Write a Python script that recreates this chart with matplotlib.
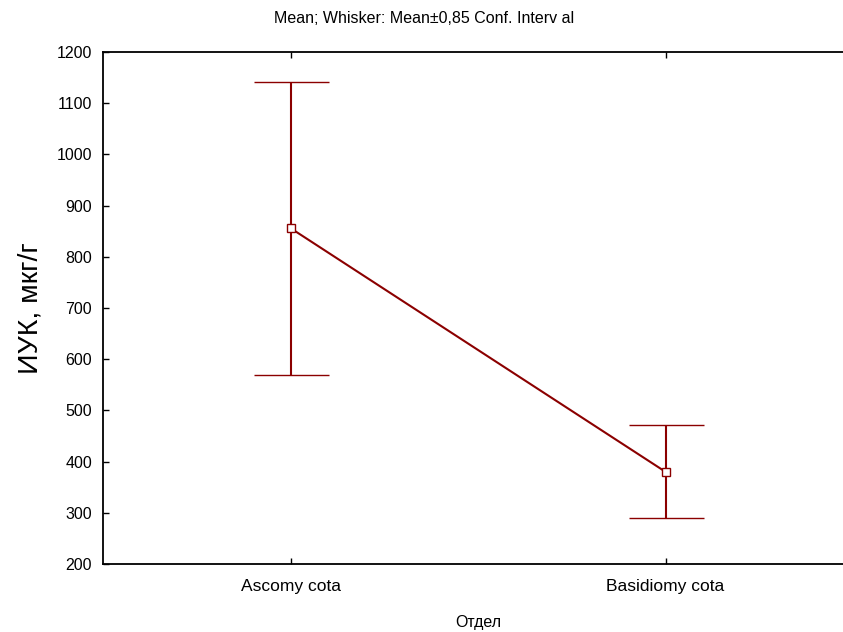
#!/usr/bin/env python3
# -*- coding: utf-8 -*-
import matplotlib
matplotlib.use('Agg')
import matplotlib.pyplot as plt

plt.rcParams['font.family'] = ['Liberation Sans', 'DejaVu Sans']

# data -----------------------------------------------------------------------
groups = ['Ascomy cota', 'Basidiomy cota']
means = [856, 380]
ci_half = [286, 91]
yticks = [200, 300, 400, 500, 600, 700, 800, 900, 1000, 1100, 1200]

COLOR = '#8B0000'

fig = plt.figure(figsize=(8.43, 6.32), dpi=100)
ax = fig.add_axes([0.1222, 0.1076, 0.8897, 0.8101])

xs = [0.5 + i for i in range(len(groups))]
ax.errorbar(xs, means, yerr=ci_half, color=COLOR, linewidth=1.5,
            elinewidth=1.5, capsize=27, capthick=1.6,
            marker='s', markersize=6, markerfacecolor='white',
            markeredgecolor=COLOR, markeredgewidth=1.0, zorder=3)

ax.set_xlim(0, 2)
ax.set_ylim(200, 1200)
ax.set_xticks(xs)
ax.set_xticklabels(groups, fontsize=12.5)
ax.set_yticks(yticks)
ax.set_yticklabels([str(v) for v in yticks], fontsize=11.5)
ax.tick_params(axis='y', direction='in', length=4, width=1, pad=8, left=True, right=False)
ax.tick_params(axis='x', direction='in', length=4, width=1, pad=11, top=True, bottom=True)

for s in ['left', 'bottom', 'top']:
    ax.spines[s].set_linewidth(1.3)
ax.spines['right'].set_visible(False)

ax.set_ylabel('ИУК, мкг/г', fontsize=20.5, labelpad=9)
fig.text(0.567, 0.0158, 'Отдел', ha='center', va='center', fontsize=11.5)
fig.text(0.503, 0.971, 'Mean; Whisker: Mean±0,85 Conf. Interv al',
         ha='center', va='center', fontsize=11.5)

fig.savefig('out.png', dpi=100)
